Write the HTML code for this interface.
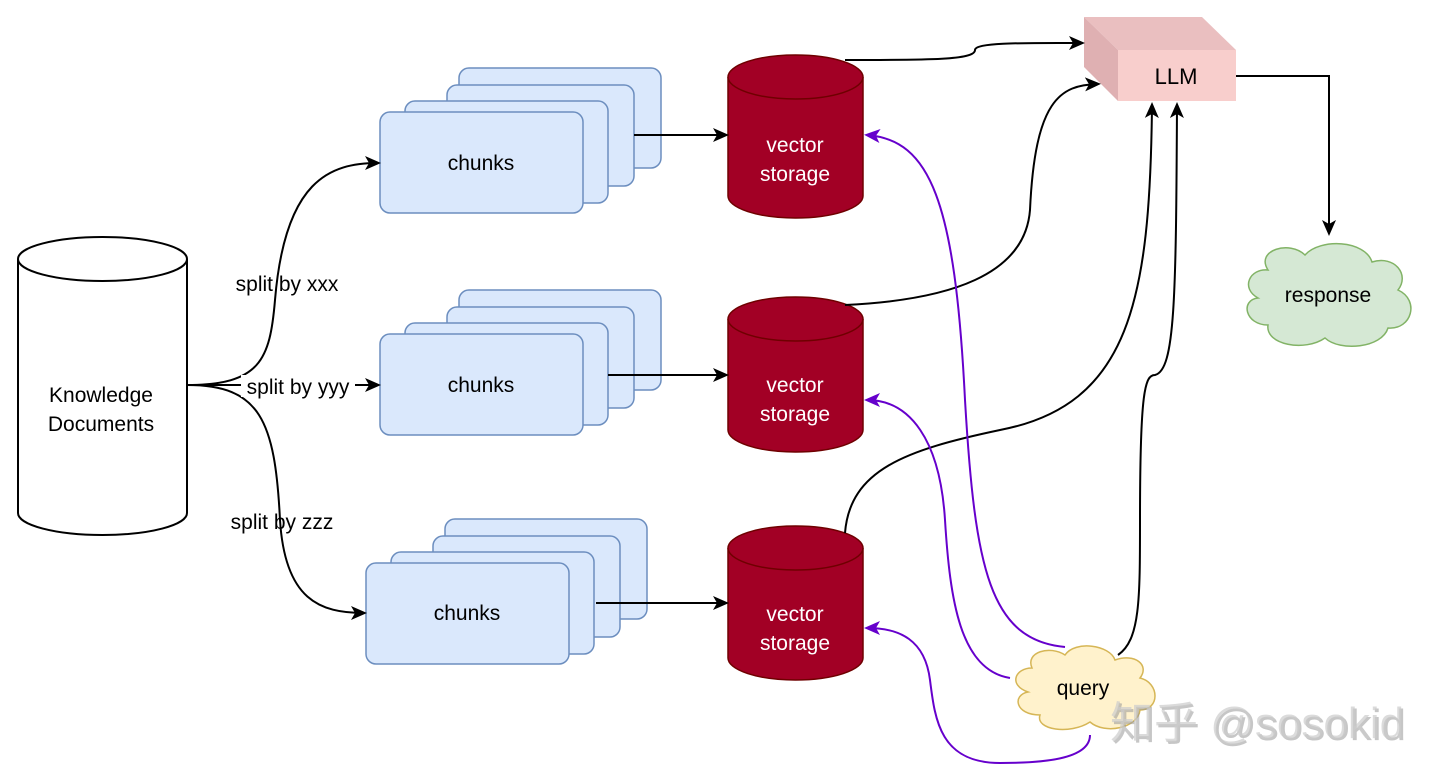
<!DOCTYPE html>
<html><head><meta charset="utf-8"><style>
html,body{margin:0;padding:0;background:#fff}
svg{display:block}
text{font-family:"Liberation Sans","Noto Sans CJK SC",sans-serif}
</style></head><body>
<svg width="1440" height="782" viewBox="0 0 1440 782" xmlns="http://www.w3.org/2000/svg">
<defs>
<marker id="ab" markerWidth="16" markerHeight="16" refX="13" refY="8" orient="auto" markerUnits="userSpaceOnUse"><path d="M0,1 L16,8 L0,15 L4,8 Z" fill="#000"/></marker>
<marker id="ap" markerWidth="16" markerHeight="16" refX="13" refY="8" orient="auto" markerUnits="userSpaceOnUse"><path d="M0,1 L16,8 L0,15 L4,8 Z" fill="#6600CC"/></marker>
</defs>

<path d="M18,259 L18,513 A84.5,22 0 0 0 187,513 L187,259" fill="#fff" stroke="#000" stroke-width="2"/>
<ellipse cx="102.5" cy="259" rx="84.5" ry="22" fill="#fff" stroke="#000" stroke-width="2"/>
<text x="101" y="402" font-size="21" text-anchor="middle">Knowledge</text>
<text x="101" y="431" font-size="21" text-anchor="middle">Documents</text>

<g fill="#dae8fc" stroke="#6c8ebf" stroke-width="1.5">
<rect x="459" y="68" width="202" height="100" rx="10"/>
<rect x="447" y="85" width="187" height="101" rx="10"/>
<rect x="405" y="101" width="203" height="102" rx="10"/>
<rect x="380" y="112" width="203" height="101" rx="10"/>
<rect x="459" y="290" width="202" height="100" rx="10"/>
<rect x="447" y="307" width="187" height="101" rx="10"/>
<rect x="405" y="323" width="203" height="102" rx="10"/>
<rect x="380" y="334" width="203" height="101" rx="10"/>
<rect x="445" y="519" width="202" height="100" rx="10"/>
<rect x="433" y="536" width="187" height="101" rx="10"/>
<rect x="391" y="552" width="203" height="102" rx="10"/>
<rect x="366" y="563" width="203" height="101" rx="10"/>
</g>
<g font-size="21" text-anchor="middle">
<text x="481" y="170">chunks</text>
<text x="481" y="392">chunks</text>
<text x="467" y="620">chunks</text>
</g>

<g fill="#a20025" stroke="#6F0000" stroke-width="1.5">
<path d="M728,77 L728,196 A67.5,22 0 0 0 863,196 L863,77"/>
<ellipse cx="795.5" cy="77" rx="67.5" ry="22"/>
<path d="M728,319 L728,430 A67.5,22 0 0 0 863,430 L863,319"/>
<ellipse cx="795.5" cy="319" rx="67.5" ry="22"/>
<path d="M728,548 L728,658 A67.5,22 0 0 0 863,658 L863,548"/>
<ellipse cx="795.5" cy="548" rx="67.5" ry="22"/>
</g>
<g font-size="21" text-anchor="middle" fill="#fff">
<text x="795" y="152">vector</text><text x="795" y="181">storage</text>
<text x="795" y="392">vector</text><text x="795" y="421">storage</text>
<text x="795" y="621">vector</text><text x="795" y="650">storage</text>
</g>

<polygon points="1084,17 1202,17 1236,50 1118,50" fill="#eabfc0"/>
<polygon points="1084,17 1118,50 1118,101 1084,67" fill="#dfb0b2"/>
<rect x="1118" y="50" width="118" height="51" fill="#f8cecc"/>
<text x="1176" y="84" font-size="22" text-anchor="middle">LLM</text>

<path d="M1268,270 C1255,250 1290,240 1305,255 C1320,238 1365,240 1372,262 C1395,255 1410,275 1398,290 C1420,300 1412,330 1388,328 C1382,348 1340,352 1325,338 C1305,352 1265,345 1268,325 C1245,325 1240,300 1258,298 C1240,288 1250,268 1268,270 Z" fill="#d5e8d4" stroke="#82b366" stroke-width="1.5"/>
<text x="1328" y="302" font-size="21" text-anchor="middle">response</text>

<path d="M1032,668 C1025,652 1050,645 1065,655 C1075,640 1110,645 1115,660 C1135,653 1150,665 1140,678 C1160,683 1160,710 1140,710 C1138,728 1105,735 1090,722 C1070,735 1035,730 1040,715 C1015,715 1012,695 1028,692 C1008,685 1015,668 1032,668 Z" fill="#fff2cc" stroke="#d6b656" stroke-width="1.5"/>
<text x="1083" y="695" font-size="21" text-anchor="middle">query</text>

<g fill="none" stroke="#000" stroke-width="2">
<path d="M187,385 C260,385 270,360 275,300 C285,180 330,163 378,163" marker-end="url(#ab)"/>
<path d="M187,385 L378,385" marker-end="url(#ab)"/>
<path d="M187,385 C260,385 275,420 280,520 C285,600 320,613 364,613" marker-end="url(#ab)"/>
<path d="M634,135 L726,135" marker-end="url(#ab)"/>
<path d="M608,375 L726,375" marker-end="url(#ab)"/>
<path d="M596,603 L726,603" marker-end="url(#ab)"/>
<path d="M845,60 C930,60 975,60 975,50 C975,42 1030,43 1082,43" marker-end="url(#ab)"/>
<path d="M845,305 C950,300 1025,275 1030,210 C1035,100 1060,85 1098,84" marker-end="url(#ab)"/>
<path d="M845,533 C850,470 905,450 1000,430 C1130,405 1150,300 1152,105" marker-end="url(#ab)"/>
<path d="M1118,655 C1140,640 1140,600 1140,520 C1140,390 1145,375 1155,375 C1175,370 1176,300 1177,105" marker-end="url(#ab)"/>
<path d="M1236,76 L1329,76 L1329,233" marker-end="url(#ab)"/>
</g>
<rect x="241" y="375" width="114" height="22" fill="#fff"/>
<g font-size="21" text-anchor="middle">
<text x="287" y="291">split by xxx</text>
<text x="298" y="394">split by yyy</text>
<text x="282" y="529">split by zzz</text>
</g>

<g fill="none" stroke="#6600CC" stroke-width="2">
<path d="M1065,647 C990,640 975,570 965,400 C955,200 930,140 867,135" marker-end="url(#ap)"/>
<path d="M1010,678 C960,670 950,600 945,520 C940,440 910,400 867,400" marker-end="url(#ap)"/>
<path d="M1090,735 C1090,760 1040,763 1000,763 C940,763 935,720 930,680 C925,640 900,628 867,628" marker-end="url(#ap)"/>
</g>

<text x="1112" y="740" font-size="44" fill="#999" opacity="0.55">知乎 @sosokid</text>
<text x="1110" y="738" font-size="44" fill="#ccc" opacity="0.7">知乎 @sosokid</text>
</svg>
</body></html>
